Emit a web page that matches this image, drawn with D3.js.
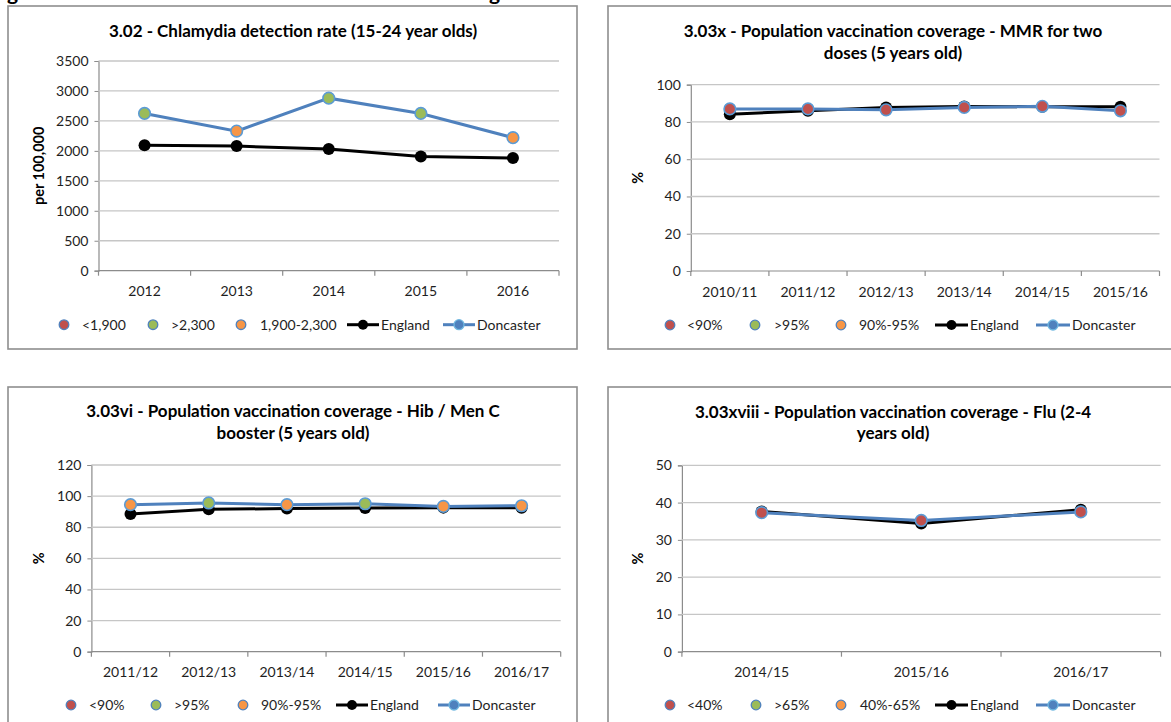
<!DOCTYPE html>
<html>
<head>
<meta charset="utf-8">
<script src="https://cdn.jsdelivr.net/npm/d3@7"></script>
<style>
  html, body { margin: 0; padding: 0; background: #ffffff; }
  svg { display: block; font-family: Lato, "Noto Sans", sans-serif; }
</style>
</head>
<body>
<svg id="chart" width="1171" height="722"></svg>
<script>
// ---- 3.02 Chlamydia detection rate (15-24 year olds), per 100,000 ----
const chlamydiaPeriods   = ["2012", "2013", "2014", "2015", "2016"];
const chlamydiaDoncaster = [2625, 2330, 2880, 2625, 2220];
const chlamydiaEngland   = [2095, 2080, 2030, 1905, 1880];
const chlamydiaBands     = ["high", "mid", "high", "high", "mid"];
const chlamydiaBandText  = ["<1,900", ">2,300", "1,900-2,300"];
const chlamydiaTicks     = [0, 500, 1000, 1500, 2000, 2500, 3000, 3500];

// ---- 3.03x MMR two doses (5 years old), % ----
const mmrPeriods   = ["2010/11", "2011/12", "2012/13", "2013/14", "2014/15", "2015/16"];
const mmrDoncaster = [87.0, 87.0, 86.5, 87.8, 88.4, 86.0];
const mmrEngland   = [84.2, 86.0, 87.7, 88.3, 88.2, 88.2];
const mmrBands     = ["low", "low", "low", "low", "low", "low"];
const mmrBandText  = ["<90%", ">95%", "90%-95%"];
const mmrTicks     = [0, 20, 40, 60, 80, 100];

// ---- 3.03vi Hib / Men C booster (5 years old), % ----
const hibPeriods   = ["2011/12", "2012/13", "2013/14", "2014/15", "2015/16", "2016/17"];
const hibDoncaster = [94.5, 95.6, 94.5, 95.1, 93.4, 93.8];
const hibEngland   = [88.5, 91.5, 92.0, 92.4, 92.6, 92.5];
const hibBands     = ["mid", "high", "mid", "high", "mid", "mid"];
const hibBandText  = ["<90%", ">95%", "90%-95%"];
const hibTicks     = [0, 20, 40, 60, 80, 100, 120];

// ---- 3.03xviii Flu (2-4 years old), % ----
const fluPeriods   = ["2014/15", "2015/16", "2016/17"];
const fluDoncaster = [37.3, 35.2, 37.5];
const fluEngland   = [37.6, 34.4, 38.1];
const fluBands     = ["low", "low", "low"];
const fluBandText  = ["<40%", ">65%", "40%-65%"];
const fluTicks     = [0, 10, 20, 30, 40, 50];

const bandColour = { low: "#C0504D", high: "#9BBB59", mid: "#F79646" };
const bandOrder = ["low", "high", "mid"];
const doncasterBlue = "#4F81BD";
const gridGrey = "#C6C6C6";
const axisGrey = "#8C8C8C";
const textDark = "#1E1E1E";
const labelSize = 14;
const titleSize = 17;

const svg = d3.select("#chart");

// Page heading sitting above the panels (only its descenders fall inside the view)
svg.append("text").attr("x", 7).attr("y", 0)
  .attr("font-size", 21).attr("font-weight", 700).attr("fill", "#000").text("g");
svg.append("text").attr("x", 489).attr("y", 0)
  .attr("font-size", 21).attr("font-weight", 700).attr("fill", "#000").text("g");

const panels = [
  {
    box: [8, 6], titles: ["3.02 - Chlamydia detection rate (15-24 year olds)"], titleY: [36.5],
    plot: { x0: 98.5, x1: 559, yTop: 61, yBottom: 270.7 }, yMax: 3500,
    periods: chlamydiaPeriods, doncaster: chlamydiaDoncaster, england: chlamydiaEngland,
    bands: chlamydiaBands, bandText: chlamydiaBandText, ticks: chlamydiaTicks,
    yTitle: "per 100,000", yTitleX: 39, xLabelY: 296.5,
    legend: { y: 324.7, dots: [64, 153, 241], dotText: [82, 171, 260],
              eng: [347, 379], engText: 381, don: [443, 475], donText: 477 }
  },
  {
    box: [608, 6], titles: ["3.03x - Population vaccination coverage - MMR for two", "doses (5 years old)"],
    titleY: [36.5, 59],
    plot: { x0: 690.8, x1: 1159.5, yTop: 84.7, yBottom: 271 }, yMax: 100,
    periods: mmrPeriods, doncaster: mmrDoncaster, england: mmrEngland,
    bands: mmrBands, bandText: mmrBandText, ticks: mmrTicks,
    yTitle: "%", yTitleX: 638, xLabelY: 297,
    legend: { y: 325, dots: [670, 755, 841], dotText: [687, 774, 859],
              eng: [935, 968], engText: 970, don: [1036, 1070], donText: 1072 }
  },
  {
    box: [8, 387], titles: ["3.03vi - Population vaccination coverage - Hib / Men C", "booster (5 years old)"],
    titleY: [416.5, 438.5],
    plot: { x0: 91.4, x1: 560.7, yTop: 465, yBottom: 651.7 }, yMax: 120,
    periods: hibPeriods, doncaster: hibDoncaster, england: hibEngland,
    bands: hibBands, bandText: hibBandText, ticks: hibTicks,
    yTitle: "%", yTitleX: 39, xLabelY: 677,
    legend: { y: 705, dots: [71, 156, 243], dotText: [89, 174, 261],
              eng: [336, 368], engText: 370, don: [438, 470], donText: 472 }
  },
  {
    box: [608, 387], titles: ["3.03xviii - Population vaccination coverage - Flu (2-4", "years old)"],
    titleY: [417.5, 439],
    plot: { x0: 681.9, x1: 1160.6, yTop: 465.3, yBottom: 651.7 }, yMax: 50,
    periods: fluPeriods, doncaster: fluDoncaster, england: fluEngland,
    bands: fluBands, bandText: fluBandText, ticks: fluTicks,
    yTitle: "%", yTitleX: 638, xLabelY: 677,
    legend: { y: 705, dots: [670, 756, 841], dotText: [687, 774, 860],
              eng: [935, 968], engText: 970, don: [1036, 1070], donText: 1072 }
  }
];

function drawPanel(p) {
  const g = svg.append("g");
  const boxW = 569, boxH = p.box[1] < 100 ? 343 : 360;

  // panel frame
  g.append("rect")
    .attr("x", p.box[0]).attr("y", p.box[1])
    .attr("width", boxW).attr("height", boxH)
    .attr("fill", "#fff").attr("stroke", "#8E8E8E").attr("stroke-width", 1.6);

  // title
  const titleCx = p.box[0] + 285;
  p.titles.forEach((t, i) => {
    g.append("text")
      .attr("x", titleCx).attr("y", p.titleY[i])
      .attr("text-anchor", "middle")
      .attr("font-size", titleSize).attr("font-weight", 700).attr("fill", "#000")
      .text(t);
  });

  const x = d3.scaleBand().domain(p.periods).range([p.plot.x0, p.plot.x1]).padding(0);
  const y = d3.scaleLinear().domain([0, p.yMax]).range([p.plot.yBottom, p.plot.yTop]);
  const cx = d => x(d) + x.bandwidth() / 2;

  // gridlines + value axis
  const yAxis = d3.axisLeft(y).tickValues(p.ticks).tickSize(4).tickPadding(6).tickFormat(d3.format("d"));
  const ya = g.append("g").attr("transform", `translate(${p.plot.x0},0)`).call(yAxis);
  ya.select(".domain").attr("stroke", axisGrey).attr("stroke-width", 1.2);
  ya.selectAll(".tick line").attr("stroke", axisGrey);
  ya.selectAll(".tick text").attr("font-size", labelSize).attr("fill", textDark)
    .attr("font-family", "Lato, sans-serif");

  g.append("g").selectAll("line").data(p.ticks.filter(t => t > 0)).join("line")
    .attr("x1", p.plot.x0).attr("x2", p.plot.x1)
    .attr("y1", d => y(d)).attr("y2", d => y(d))
    .attr("stroke", gridGrey).attr("stroke-width", 1.3);

  // category axis
  const xAxis = d3.axisBottom(x).tickSize(0).tickPadding(0);
  const xa = g.append("g").attr("transform", `translate(0,${p.plot.yBottom})`).call(xAxis);
  xa.select(".domain").remove();
  xa.selectAll(".tick text").attr("font-size", labelSize).attr("fill", textDark)
    .attr("font-family", "Lato, sans-serif")
    .attr("dy", 0).attr("y", p.xLabelY - p.plot.yBottom);
  g.append("line").attr("x1", p.plot.x0).attr("x2", p.plot.x1)
    .attr("y1", p.plot.yBottom).attr("y2", p.plot.yBottom)
    .attr("stroke", axisGrey).attr("stroke-width", 1.2);
  const bounds = p.periods.map(d => x(d)).concat([p.plot.x1]);
  g.append("g").selectAll("line").data(bounds).join("line")
    .attr("x1", d => d).attr("x2", d => d)
    .attr("y1", p.plot.yBottom).attr("y2", p.plot.yBottom + 5)
    .attr("stroke", axisGrey).attr("stroke-width", 1.2);

  // value-axis title
  const yMid = (p.plot.yTop + p.plot.yBottom) / 2;
  g.append("text")
    .attr("transform", `translate(${p.yTitleX + 5},${yMid}) rotate(-90)`)
    .attr("text-anchor", "middle")
    .attr("font-size", 14.5).attr("font-weight", 700).attr("fill", "#000")
    .text(p.yTitle);

  // England series
  const line = d3.line().x((d, i) => cx(p.periods[i])).y(d => y(d));
  g.append("path").datum(p.england).attr("d", line)
    .attr("fill", "none").attr("stroke", "#000").attr("stroke-width", 3);
  g.append("g").selectAll("circle").data(p.england).join("circle")
    .attr("cx", (d, i) => cx(p.periods[i])).attr("cy", d => y(d))
    .attr("r", 6).attr("fill", "#000");

  // Doncaster series with RAG-banded markers
  g.append("path").datum(p.doncaster).attr("d", line)
    .attr("fill", "none").attr("stroke", doncasterBlue).attr("stroke-width", 3);
  g.append("g").selectAll("circle").data(p.doncaster).join("circle")
    .attr("cx", (d, i) => cx(p.periods[i])).attr("cy", d => y(d))
    .attr("r", 5.8).attr("fill", (d, i) => bandColour[p.bands[i]])
    .attr("stroke", "#5B9BD5").attr("stroke-width", 1.6);

  // legend
  const L = p.legend, ly = L.y;
  bandOrder.forEach((b, i) => {
    g.append("circle").attr("cx", L.dots[i]).attr("cy", ly).attr("r", 4.8)
      .attr("fill", bandColour[b]).attr("stroke", "#4F81BD").attr("stroke-width", 1.3);
    g.append("text").attr("x", L.dotText[i]).attr("y", ly + 5)
      .attr("font-size", labelSize).attr("fill", textDark).text(p.bandText[i]);
  });
  g.append("line").attr("x1", L.eng[0]).attr("x2", L.eng[1]).attr("y1", ly).attr("y2", ly)
    .attr("stroke", "#000").attr("stroke-width", 3);
  g.append("circle").attr("cx", (L.eng[0] + L.eng[1]) / 2).attr("cy", ly).attr("r", 5).attr("fill", "#000");
  g.append("text").attr("x", L.engText).attr("y", ly + 5)
    .attr("font-size", labelSize).attr("fill", textDark).text("England");
  g.append("line").attr("x1", L.don[0]).attr("x2", L.don[1]).attr("y1", ly).attr("y2", ly)
    .attr("stroke", doncasterBlue).attr("stroke-width", 3);
  g.append("circle").attr("cx", (L.don[0] + L.don[1]) / 2).attr("cy", ly).attr("r", 5)
    .attr("fill", doncasterBlue).attr("stroke", "#6FB7E0").attr("stroke-width", 1.3);
  g.append("text").attr("x", L.donText).attr("y", ly + 5)
    .attr("font-size", labelSize).attr("fill", textDark).text("Doncaster");
}

panels.forEach(drawPanel);
</script>
</body>
</html>
